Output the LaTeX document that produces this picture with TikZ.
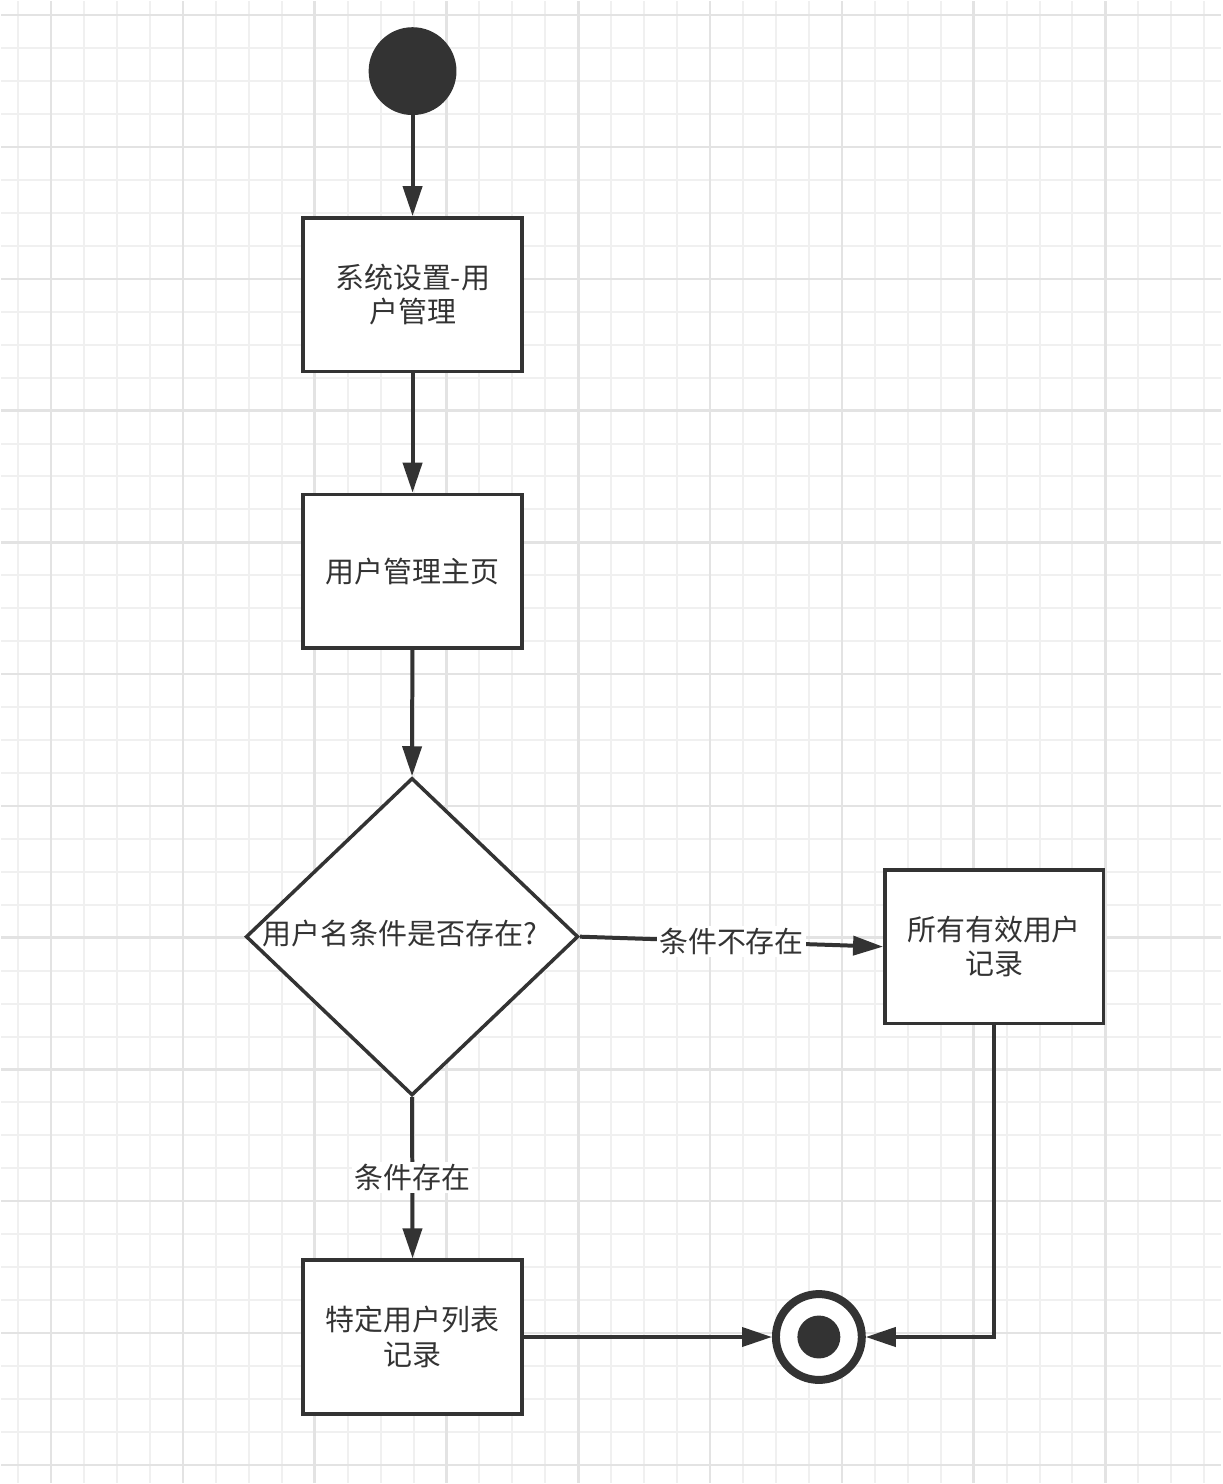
\documentclass[tikz,border=0pt]{standalone}
\usepackage{fontspec}
\setmainfont{Noto Sans CJK SC}
\usetikzlibrary{arrows.meta,shapes.geometric}
\definecolor{Ink}{HTML}{333333}
\definecolor{GridMinor}{HTML}{F0F0F0}
\definecolor{GridMajor}{HTML}{E3E3E3}

\begin{document}
\begin{tikzpicture}[x=1pt,y=-1pt,>=Triangle,
  every node/.style={font=\fontsize{29}{34.5}\selectfont,text=Ink},
  actbox/.style={draw=Ink,line width=3.5pt,fill=white,minimum width=219pt,minimum height=154pt,align=center,inner sep=0pt},
  decide/.style={diamond,draw=Ink,line width=3.5pt,fill=white,minimum width=333pt,minimum height=318pt,inner sep=0pt},
  startdot/.style={circle,fill=Ink,minimum size=88pt,inner sep=0pt},
  enddot/.style={circle,draw=Ink,line width=8pt,fill=white,minimum size=86pt,inner sep=0pt,
    path picture={\fill[Ink] (path picture bounding box.center) circle (21.5pt);}},
  flow/.style={draw=Ink,line width=4pt,-{Triangle[length=30pt,width=19pt]}},
  guard/.style={fill=white,inner sep=2pt}
]
% background grid
\fill[white] (0,0) rectangle (1222,1484);
\foreach \x in {17,50,...,1222} \draw[GridMinor,line width=2pt] (\x,0) -- (\x,1484);
\foreach \y in {14,47,...,1484} \draw[GridMinor,line width=2pt] (0,\y) -- (1222,\y);
\foreach \x in {50,182,...,1222} \draw[GridMajor,line width=2.5pt] (\x,0) -- (\x,1484);
\foreach \y in {14,146,...,1484} \draw[GridMajor,line width=2.5pt] (0,\y) -- (1222,\y);
\useasboundingbox (0,0) rectangle (1222,1484);

% nodes
\node[startdot] (start) at (412,70) {};
\node[actbox] (sysmenu) at (412,294) {系统设置-用\\户管理};
\node[actbox] (home) at (412,571) {用户管理主页};
\node[decide,label={[xshift=-12pt,yshift=3pt]center:用户名条件是否存在?}] (check) at (411.5,937) {};
\node[actbox] (allrec) at (994.5,947) {所有有效用户\\记录};
\node[actbox] (userrec) at (412,1338) {特定用户列表\\记录};
\node[enddot] (finish) at (819,1338) {};

% connectors
\draw[flow] (start) -- (sysmenu);
\draw[flow] (sysmenu) -- (home);
\draw[flow] (home) -- (check.north);
\draw[flow] (check.east) -- node[guard] {条件不存在} (allrec.west);
\draw[flow] (check.south) -- node[guard] {条件存在} (userrec.north);
\draw[flow] (userrec.east) -- (finish.west);
\draw[flow] (allrec.south) |- (finish.east);
\end{tikzpicture}
\end{document}
